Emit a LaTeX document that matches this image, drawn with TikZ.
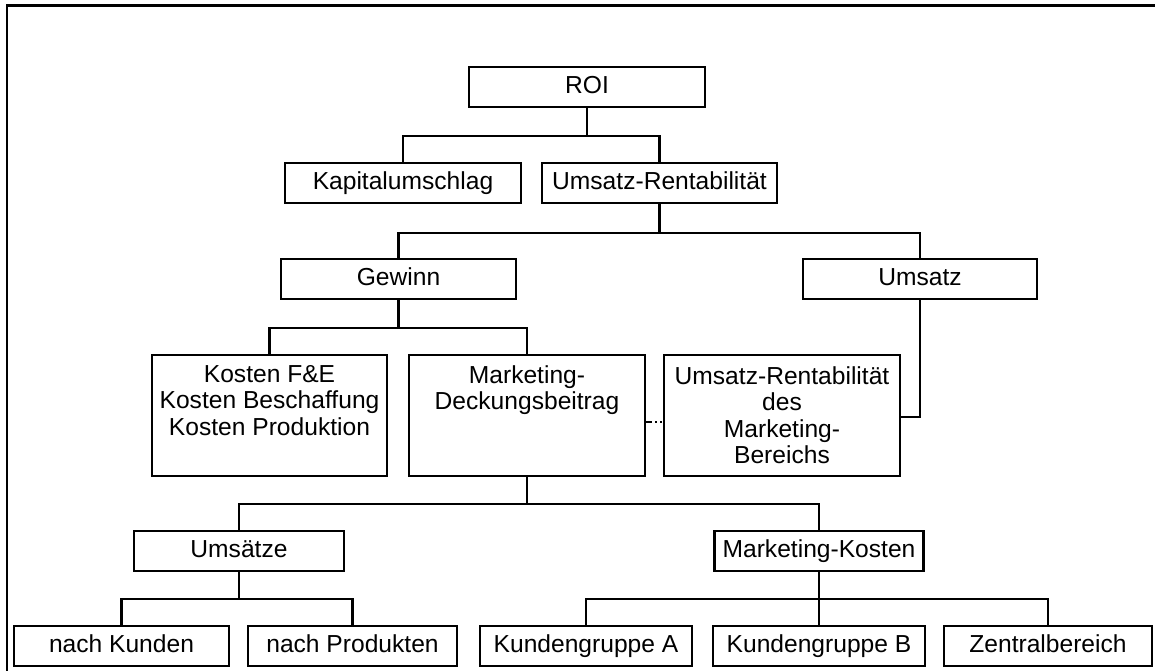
\documentclass[tikz,border=0pt]{standalone}
\usepackage{fontspec}
\setmainfont{Liberation Sans}
\begin{document}
\begin{tikzpicture}[x=1pt,y=-1pt,
  lbl/.style={font=\fontsize{24.6}{26.5}\selectfont},
  box/.style={draw, line width=2.4pt, inner sep=0pt, minimum height=40pt,
    text height=17pt, text depth=5pt, lbl},
  tallbox/.style={draw, line width=2.4pt, inner sep=0pt, minimum height=121pt},
  boxtext/.style={anchor=north, inner sep=0pt, align=center, lbl},
  wire/.style={line width=2.4pt},
  linkline/.style={line width=2.4pt, dash pattern=on 6pt off 3pt on 2pt off 3pt on 2pt off 4pt}]
\useasboundingbox (0,0) rectangle (1155,670);

% frame (open at right and bottom)
\draw[line width=2.6pt] (7,672) -- (7,5.5) -- (1157,5.5);

% level 1-3
\node[box, minimum width=236pt] (roi)   at (587,87)    {ROI};
\node[box, minimum width=236pt] (kap)   at (403,183)   {Kapitalumschlag};
\node[box, minimum width=235pt] (urent) at (659.5,183) {Umsatz-Rentabilität};
\node[box, minimum width=235pt] (gew)   at (398.5,279) {Gewinn};
\node[box, minimum width=234pt] (ums)   at (920,279)   {Umsatz};

% tall boxes
\node[tallbox, minimum width=235pt] (kosten) at (269.5,415.5) {};
\node[tallbox, minimum width=236pt] (mdb)    at (527,415.5)   {};
\node[tallbox, minimum width=236pt] (urm)    at (782,415.5)   {};
\node[boxtext] at (kosten.north |- 0,365) {Kosten F\&E\\Kosten Beschaffung\\Kosten Produktion};
\node[boxtext] at (mdb.north |- 0,365)    {Marketing-\\Deckungsbeitrag};
\node[boxtext] at (urm.north |- 0,366)    {Umsatz-Rentabilität\\des\\Marketing-\\Bereichs};

% lower levels
\node[box, minimum width=210pt] (umsz)  at (239,551)    {Umsätze};
\node[box, minimum width=209pt] (mkost) at (819,551)    {Marketing-Kosten};
\node[box, minimum width=215pt] (nk)    at (121.5,646)  {nach Kunden};
\node[box, minimum width=209pt] (np)    at (352.5,646)  {nach Produkten};
\node[box, minimum width=212pt] (kga)   at (586,646)    {Kundengruppe A};
\node[box, minimum width=212pt] (kgb)   at (819,646)    {Kundengruppe B};
\node[box, minimum width=208pt] (zb)    at (1048,646)   {Zentralbereich};

% connectors
\draw[wire] (roi.south) -- (roi.south |- 0,136);
\draw[wire] (kap.north) -- (kap.north |- 0,136) -- (urent.north |- 0,136) -- (urent.north);

\draw[wire] (urent.south) -- (urent.south |- 0,233);
\draw[wire] (gew.north) -- (gew.north |- 0,233) -- (ums.north |- 0,233) -- (ums.north);

\draw[wire] (gew.south) -- (gew.south |- 0,328);
\draw[wire] (kosten.north) -- (kosten.north |- 0,328) -- (mdb.north |- 0,328) -- (mdb.north);

\draw[wire] (ums.south) -- (ums.south |- 0,417) -- (urm.east |- 0,417);
\draw[linkline] (mdb.east |- 0,422) -- (urm.west |- 0,422);

\draw[wire] (mdb.south) -- (mdb.south |- 0,504);
\draw[wire] (umsz.north) -- (umsz.north |- 0,504) -- (mkost.north |- 0,504) -- (mkost.north);

\draw[wire] (umsz.south) -- (umsz.south |- 0,599);
\draw[wire] (nk.north) -- (nk.north |- 0,599) -- (np.north |- 0,599) -- (np.north);

\draw[wire] (mkost.south) -- (kgb.north);
\draw[wire] (kga.north) -- (kga.north |- 0,599) -- (zb.north |- 0,599) -- (zb.north);
\end{tikzpicture}
\end{document}
